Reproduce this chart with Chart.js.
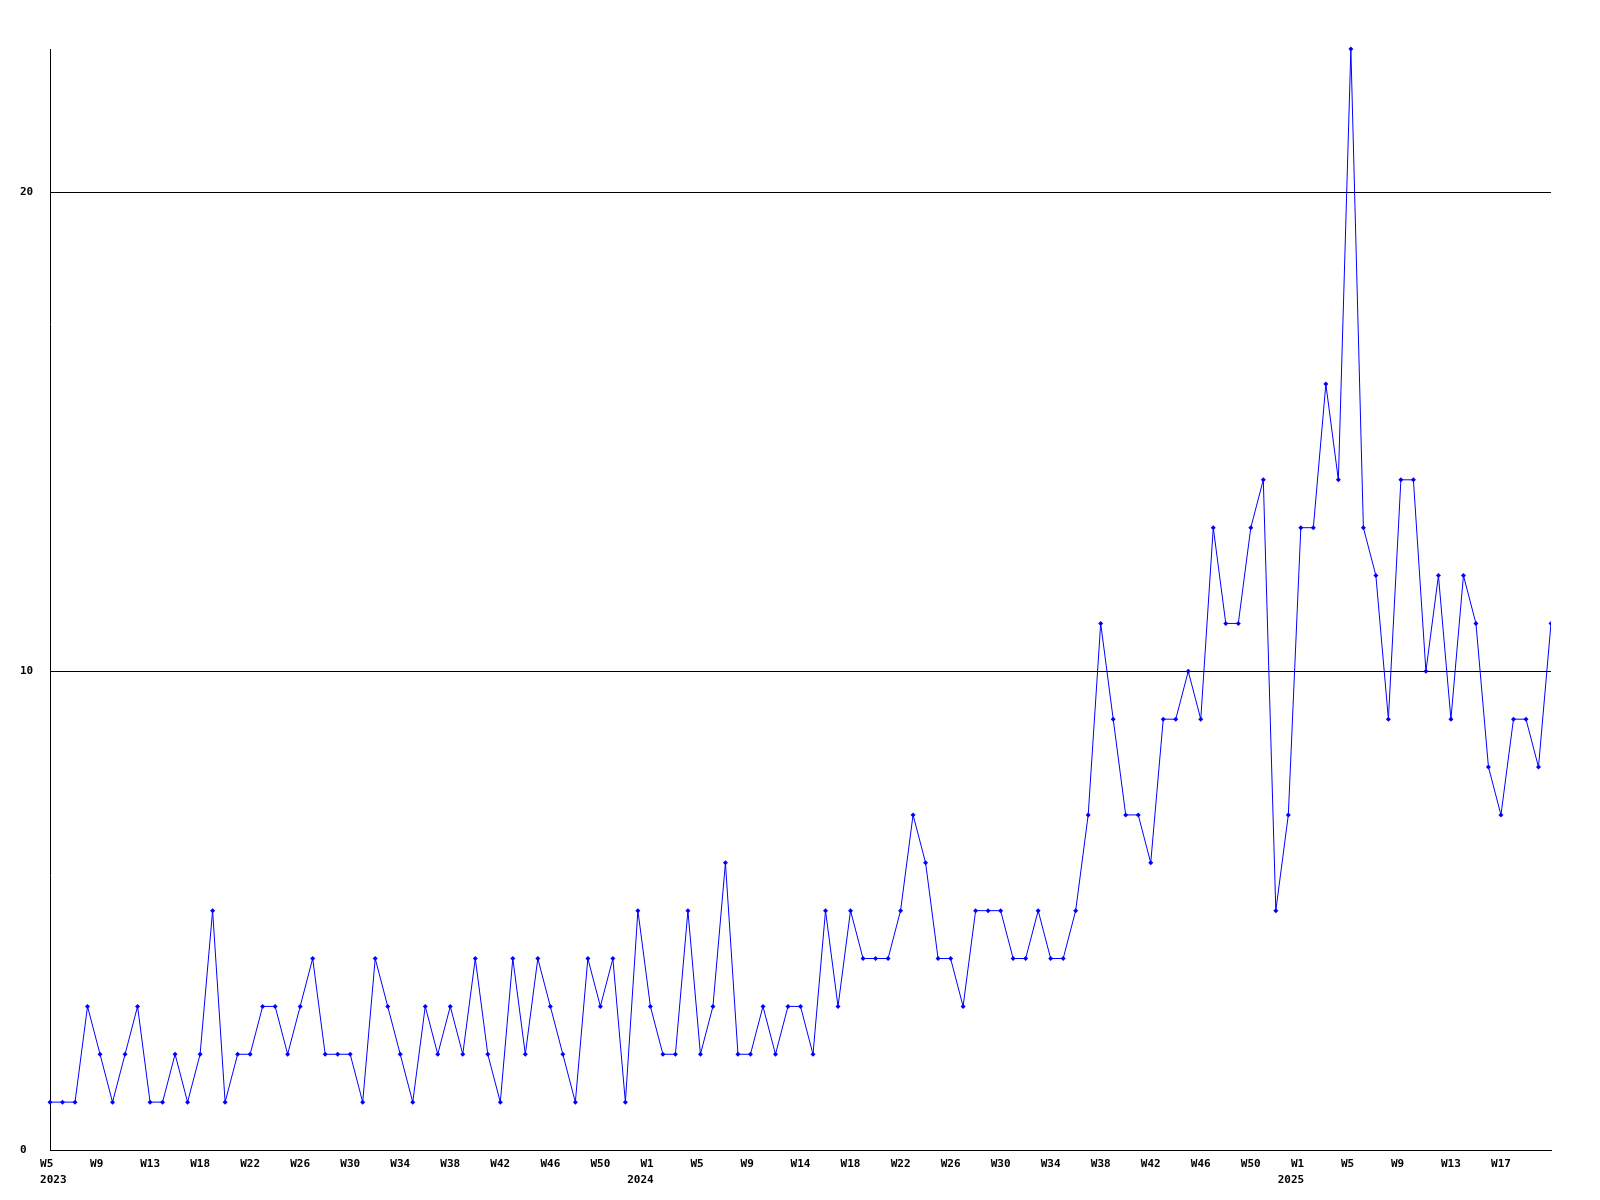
<!DOCTYPE html>
<html>
<head>
<meta charset="utf-8">
<script src="https://cdn.jsdelivr.net/npm/chart.js@4.4.1/dist/chart.umd.min.js"></script>
<style>
	html, body { margin: 0; background: #fff; }
	canvas { display: block; }
</style>
</head>
<body>
<canvas id="chart" width="1600" height="1200"></canvas>
<script>
// week numbers of the plotted points, per year (weeks without entries are absent)
const weeks2023 = [5, 6, 7, 8, 9, 10, 11, 12, 13, 14, 15, 17, 18, 19, 20, 21, 22, 23, 24, 25, 26, 27, 28, 29, 30, 31, 32, 33, 34, 35, 36, 37, 38, 39, 40, 41, 42, 43, 44, 45, 46, 47, 48, 49, 50, 51, 52, 53]
const weeks2024 = [1, 2, 3, 4, 5, 6, 7, 8, 9, 10, 11, 12, 14, 15, 16, 17, 18, 19, 20, 21, 22, 23, 24, 25, 26, 27, 28, 29, 30, 31, 32, 33, 34, 35, 36, 37, 38, 39, 40, 41, 42, 43, 44, 45, 46, 47, 48, 49, 50, 51, 52, 53]
const weeks2025 = [1, 2, 3, 4, 5, 6, 7, 8, 9, 10, 11, 12, 13, 14, 15, 16, 17, 18, 19, 20, 21]
const years = ['2023', '2024', '2025']

const counts = [
	1, 1, 1, 3, 2, 1, 2, 3, 1, 1, 2, 1, 2, 5, 1, 2, 2, 3, 3, 2,
	3, 4, 2, 2, 2, 1, 4, 3, 2, 1, 3, 2, 3, 2, 4, 2, 1, 4, 2, 4,
	3, 2, 1, 4, 3, 4, 1, 5, 3, 2, 2, 5, 2, 3, 6, 2, 2, 3, 2, 3,
	3, 2, 5, 3, 5, 4, 4, 4, 5, 7, 6, 4, 4, 3, 5, 5, 5, 4, 4, 5,
	4, 4, 5, 7, 11, 9, 7, 7, 6, 9, 9, 10, 9, 13, 11, 11, 13, 14, 5, 7,
	13, 13, 16, 14, 23, 13, 12, 9, 14, 14, 10, 12, 9, 12, 11, 8, 7, 9, 9, 8,
	11,
]

const yTicks = [0, 10, 20]
const yMax = 23
const labelEvery = 4

const weekLists = [weeks2023, weeks2024, weeks2025]
const labels = Array()
const yearStart = {}
weekLists.forEach((list, y) => {
	yearStart[labels.length] = years[y]
	list.forEach((w) => labels.push('W' + w))
})

const tickFont = { family: '"DejaVu Sans Mono", "Liberation Mono", monospace', size: 11, weight: 'bold', lineHeight: 1.45 }

const ctx = document.getElementById('chart').getContext('2d')
new Chart(ctx, {
	type: 'line',
	data: {
		labels,
		datasets: [{
			data: counts,
			borderColor: '#0000ff',
			backgroundColor: '#0000ff',
			borderWidth: 1,
			tension: 0,
			pointStyle: 'rectRot',
			pointRadius: 2.5,
			pointBorderWidth: 0,
			clip: { left: 5, top: 5, right: 0, bottom: 5 },
		}],
	},
	options: {
		responsive: false,
		animation: false,
		layout: { padding: { top: 49, right: 49, left: 20, bottom: 0 } },
		plugins: {
			legend: { display: false },
			tooltip: { enabled: false },
		},
		scales: {
			x: {
				type: 'category',
				offset: false,
				grid: { display: false, drawTicks: false },
				border: { display: true, color: '#000', width: 1 },
				afterFit: (scale) => { scale.height = 50 },
				ticks: {
					autoSkip: false,
					maxRotation: 0,
					minRotation: 0,
					padding: 6,
					color: '#000',
					font: tickFont,
					callback: function (value, index) {
						// the last point gets no label, as in the original
						if (index % labelEvery !== 0 || index === labels.length - 1) return ''
						const text = this.getLabelForValue(value).padEnd(3)
						const year = yearStart[index]
						if (year === undefined) return text
						return [text, index === 0 ? ' ' + year : year + '   ']
					},
				},
			},
			y: {
				min: 0,
				max: yMax,
				afterBuildTicks: (scale) => { scale.ticks = yTicks.map((v) => ({ value: v })) },
				afterFit: (scale) => { scale.width = 30 },
				grid: { color: '#000', lineWidth: 1, drawTicks: false },
				border: { display: true, color: '#000', width: 1 },
				ticks: {
					crossAlign: 'far',
					padding: 4,
					color: '#000',
					font: tickFont,
				},
			},
		},
	},
})
</script>
</body>
</html>
